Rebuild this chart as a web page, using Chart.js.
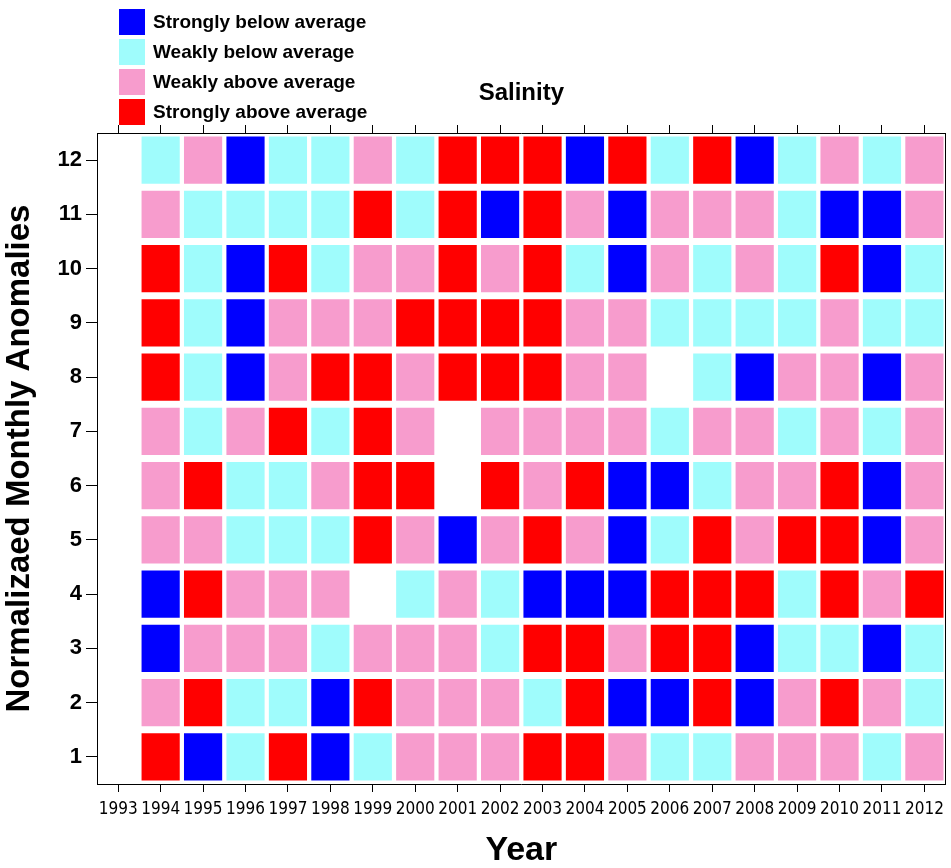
<!DOCTYPE html>
<html>
<head>
<meta charset="utf-8">
<script src="https://cdn.jsdelivr.net/npm/chart.js@4.4.1/dist/chart.umd.min.js"></script>
<style>
  html, body { margin: 0; padding: 0; background: #fff; }
  #wrap { position: relative; width: 951px; height: 868px; }
  #legend { position: absolute; left: 119px; top: 7px; font: bold 19px "Liberation Sans", Arial, sans-serif; color: #000; }
  .item { display: flex; align-items: center; height: 30px; }
  .box { width: 26px; height: 26px; margin-right: 8px; }
</style>
</head>
<body>
<div id="wrap">
  <canvas id="chart"></canvas>
  <div id="legend"></div>
</div>
<script>
// B = strongly below, C = weakly below, P = weakly above, R = strongly above, null = no data
const years = ['1993', '1994', '1995', '1996', '1997', '1998', '1999', '2000', '2001', '2002',
               '2003', '2004', '2005', '2006', '2007', '2008', '2009', '2010', '2011', '2012'];
const dataYears = years.slice(1); // 1994 .. 2012
const months = [1, 2, 3, 4, 5, 6, 7, 8, 9, 10, 11, 12];

const month1  = ['R','B','C','R','B','C','P','P','P','R','R','P','C','C','P','P','P','C','P'];
const month2  = ['P','R','C','C','B','R','P','P','P','C','R','B','B','R','B','P','R','P','C'];
const month3  = ['B','P','P','P','C','P','P','P','C','R','R','P','R','R','B','C','C','B','C'];
const month4  = ['B','R','P','P','P',null,'C','P','C','B','B','B','R','R','R','C','R','P','R'];
const month5  = ['P','P','C','C','C','R','P','B','P','R','P','B','C','R','P','R','R','B','P'];
const month6  = ['P','R','C','C','P','R','R',null,'R','P','R','B','B','C','P','P','R','B','P'];
const month7  = ['P','C','P','R','C','R','P',null,'P','P','P','P','C','P','P','C','P','C','P'];
const month8  = ['R','C','B','P','R','R','P','R','R','R','P','P',null,'C','B','P','P','B','P'];
const month9  = ['R','C','B','P','P','P','R','R','R','R','P','P','C','C','C','C','P','C','C'];
const month10 = ['R','C','B','R','C','P','P','R','P','R','C','B','P','C','P','C','R','B','C'];
const month11 = ['P','C','C','C','C','R','C','R','B','R','P','B','P','P','P','C','B','B','P'];
const month12 = ['C','P','B','C','C','P','C','R','R','R','B','R','C','R','B','C','P','C','P'];

const categories = ['B', 'C', 'P', 'R'];
const categoryNames = ['Strongly below average', 'Weakly below average', 'Weakly above average', 'Strongly above average'];
const categoryColors = { B: '#0000ff', C: '#9ffcfc', P: '#f79ccd', R: '#ff0000' };

const rows = [month1, month2, month3, month4, month5, month6, month7, month8, month9, month10, month11, month12];
const halfCell = 0.435;

const datasets = months.map((m, idx) => ({
    label: 'Month ' + m,
    data: rows[idx]
        .map((code, i) => code ? { x: dataYears[i], y: [m - halfCell, m + halfCell], code: code } : null)
        .filter(d => d !== null),
    backgroundColor: ctx => ctx.raw ? categoryColors[ctx.raw.code] : 'transparent',
    borderWidth: 0,
    grouped: false,
    barPercentage: 0.9,
    categoryPercentage: 1.0
}));

const legendEl = document.getElementById('legend');
categories.forEach((c, i) => {
    const item = document.createElement('div');
    item.className = 'item';
    item.innerHTML = '<span class="box" style="background:' + categoryColors[c] + '"></span><span>' + categoryNames[i] + '</span>';
    legendEl.appendChild(item);
});

const sans = '"Liberation Sans", Arial, sans-serif';
const narrow = '"Liberation Sans Narrow", "DejaVu Sans Condensed", sans-serif';

new Chart(document.getElementById('chart'), {
    type: 'bar',
    data: { labels: years, datasets: datasets },
    options: {
        responsive: true,
        maintainAspectRatio: false,
        animation: false,
        layout: { padding: 0 },
        plugins: {
            legend: { display: false },
            tooltip: { enabled: false }
        },
        scales: {
            x: {
                type: 'category',
                position: 'bottom',
                offset: true,
                grid: { offset: false, drawOnChartArea: false, drawTicks: true, tickLength: 8, color: '#000' },
                border: { display: true, color: '#000', width: 1 },
                ticks: { color: '#000', font: { family: narrow, size: 17 }, padding: 7, maxRotation: 0, autoSkip: false },
                title: { display: true, text: 'Year', color: '#000', font: { family: sans, size: 34, weight: 'bold', lineHeight: 1 }, padding: { top: 0, bottom: 0 } },
                afterFit: s => { s.height = 84; }
            },
            x2: {
                type: 'category',
                position: 'top',
                labels: years,
                offset: true,
                grid: { offset: false, drawOnChartArea: false, drawTicks: true, tickLength: 8, color: '#000' },
                border: { display: true, color: '#000', width: 1 },
                ticks: { display: false },
                title: { display: true, text: 'Salinity', color: '#000', font: { family: sans, size: 24, weight: 'bold', lineHeight: 1.2 }, padding: { top: 79, bottom: 0 } },
                afterFit: s => { s.height = 133; }
            },
            y: {
                type: 'linear',
                position: 'left',
                min: 0.5,
                max: 12.5,
                afterBuildTicks: s => { s.ticks = months.map(v => ({ value: v })); },
                grid: { drawOnChartArea: false, drawTicks: true, tickLength: 11, color: '#000' },
                border: { display: true, color: '#000', width: 1 },
                ticks: { color: '#000', font: { family: sans, size: 22, weight: 'bold' }, padding: 4 },
                title: { display: true, text: 'Normalizaed Monthly Anomalies', color: '#000', font: { family: sans, size: 33, weight: 'bold', lineHeight: 1 }, padding: { top: 3, bottom: 0 } },
                afterFit: s => { s.width = 97; }
            },
            y2: {
                type: 'linear',
                position: 'right',
                min: 0.5,
                max: 12.5,
                grid: { drawOnChartArea: false, drawTicks: false },
                border: { display: true, color: '#000', width: 1 },
                ticks: { display: false },
                afterFit: s => { s.width = 5; }
            }
        }
    }
});
</script>
</body>
</html>
